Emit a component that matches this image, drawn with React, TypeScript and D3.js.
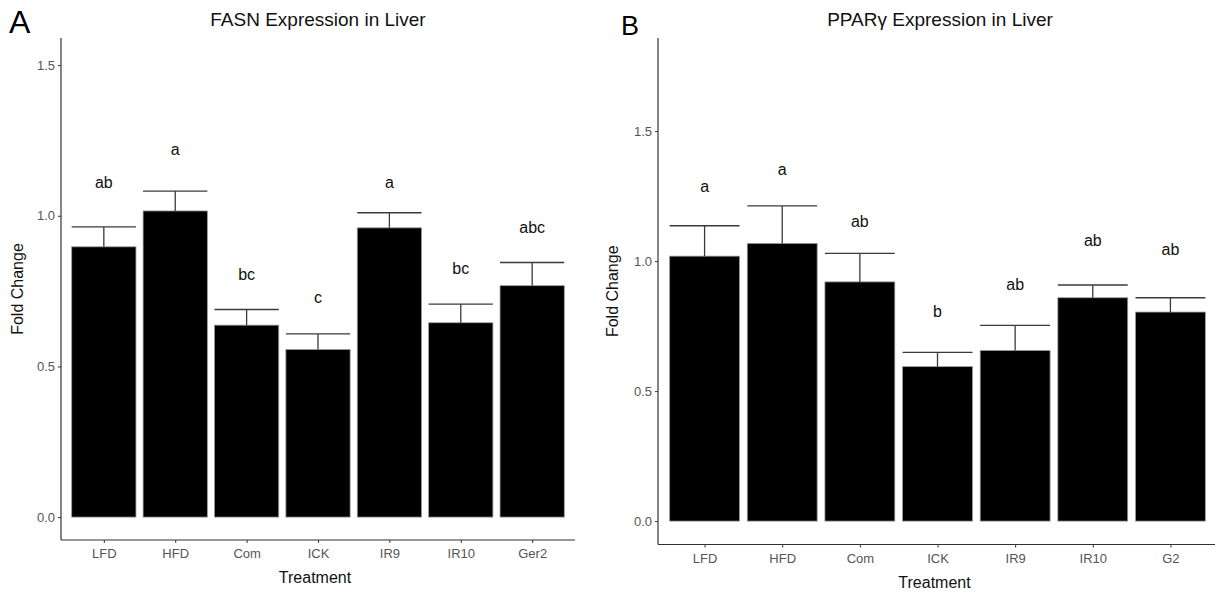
import React, { useEffect, useRef } from "react";
import * as d3 from "d3";

// Panel A: FASN
const fasnGroups = ["LFD", "HFD", "Com", "ICK", "IR9", "IR10", "Ger2"];
const fasnMean = [0.897, 1.016, 0.637, 0.556, 0.96, 0.645, 0.768];
const fasnUpper = [0.963, 1.082, 0.689, 0.608, 1.01, 0.707, 0.845];
const fasnLetters = ["ab", "a", "bc", "c", "a", "bc", "abc"];
const fasnLetterY = [1.112, 1.221, 0.807, 0.73, 1.112, 0.826, 0.962];

// Panel B: PPARγ
const pparGroups = ["LFD", "HFD", "Com", "ICK", "IR9", "IR10", "G2"];
const pparMean = [1.019, 1.068, 0.92, 0.594, 0.656, 0.859, 0.804];
const pparUpper = [1.136, 1.212, 1.03, 0.649, 0.753, 0.908, 0.859];
const pparLetters = ["a", "a", "ab", "b", "ab", "ab", "ab"];
const pparLetterY = [1.286, 1.352, 1.151, 0.805, 0.91, 1.081, 1.045];

const yTicks = [0, 0.5, 1.0, 1.5];

const FONT = "'Liberation Sans', Arial, sans-serif";

type PanelProps = {
  tag: string;
  tagX: number;
  tagY: number;
  tagSize: number;
  title: string;
  groups: string[];
  mean: number[];
  upper: number[];
  letters: string[];
  letterY: number[];
  xRange: [number, number];
  yDomain: [number, number];
  yRange: [number, number];
  titleX: number;
  yLabelX: number;
};

const Panel = (p: PanelProps) => {
  const ref = useRef<SVGGElement>(null);

  useEffect(() => {
    const g = d3.select(ref.current);
    g.selectAll("*").remove();

    // ggplot style discrete axis: positions 1..n, 0.6 expansion
    const x = d3.scaleLinear().domain([0.4, p.groups.length + 0.6]).range(p.xRange);
    const y = d3.scaleLinear().domain(p.yDomain).range(p.yRange);
    const halfW = x(1.45) - x(1);

    const axisLeft = p.xRange[0];
    const axisBottom = p.yRange[0];

    // bars
    g.selectAll("rect.bar")
      .data(p.mean)
      .enter()
      .append("rect")
      .attr("x", (_, i) => x(i + 1) - halfW)
      .attr("y", d => y(d))
      .attr("width", halfW * 2)
      .attr("height", d => y(0) - y(d))
      .attr("fill", "#000")
      .attr("stroke", "#9a9a9a")
      .attr("stroke-width", 0.8);

    // error bars (upper only)
    const eb = g.append("g").attr("stroke", "#3a3a3a").attr("stroke-width", 1.3);
    p.upper.forEach((u, i) => {
      eb.append("line")
        .attr("x1", x(i + 1)).attr("x2", x(i + 1))
        .attr("y1", y(p.mean[i])).attr("y2", y(u));
      eb.append("line")
        .attr("x1", x(i + 1) - halfW).attr("x2", x(i + 1) + halfW)
        .attr("y1", y(u)).attr("y2", y(u));
    });

    // significance letters
    g.selectAll("text.letter")
      .data(p.letters)
      .enter()
      .append("text")
      .attr("x", (_, i) => x(i + 1))
      .attr("y", (_, i) => y(p.letterY[i]))
      .attr("dy", "0.35em")
      .attr("text-anchor", "middle")
      .attr("font-size", 16)
      .attr("fill", "#111")
      .text(d => d);

    // y axis
    const yAxis = g.append("g").attr("transform", `translate(${axisLeft},0)`)
      .call(d3.axisLeft(y).tickValues(yTicks).tickFormat(d3.format(".1f")).tickSize(3).tickPadding(3));
    yAxis.select(".domain").remove();
    yAxis.append("line")
      .attr("y1", p.yRange[1]).attr("y2", axisBottom)
      .attr("stroke", "#333").attr("stroke-width", 1.2);
    yAxis.selectAll(".tick line").attr("stroke", "#333");
    yAxis.selectAll(".tick text")
      .attr("fill", "#555").attr("font-size", 13).attr("font-family", FONT);

    // x axis
    const xAxis = g.append("g").attr("transform", `translate(0,${axisBottom})`)
      .call(d3.axisBottom(x).tickValues(d3.range(1, p.groups.length + 1))
        .tickFormat((d: any) => p.groups[d - 1]).tickSize(3).tickPadding(6));
    xAxis.select(".domain").remove();
    xAxis.append("line")
      .attr("x1", axisLeft).attr("x2", p.xRange[1])
      .attr("stroke", "#333").attr("stroke-width", 1.2);
    xAxis.selectAll(".tick line").attr("stroke", "#333");
    xAxis.selectAll(".tick text")
      .attr("fill", "#555").attr("font-size", 13).attr("font-family", FONT);

    // axis titles
    g.append("text")
      .attr("x", (p.xRange[0] + p.xRange[1]) / 2 - 3)
      .attr("y", axisBottom + 43)
      .attr("text-anchor", "middle")
      .attr("font-size", 16)
      .attr("fill", "#111")
      .text("Treatment");

    g.append("text")
      .attr("transform", `translate(${p.yLabelX},${(p.yRange[0] + p.yRange[1]) / 2}) rotate(-90)`)
      .attr("text-anchor", "middle")
      .attr("font-size", 16)
      .attr("fill", "#111")
      .text("Fold Change");

    // title + panel tag
    g.append("text")
      .attr("x", p.titleX)
      .attr("y", 26)
      .attr("text-anchor", "middle")
      .attr("font-size", 19)
      .attr("fill", "#111")
      .text(p.title);

    g.append("text")
      .attr("x", p.tagX)
      .attr("y", p.tagY)
      .attr("font-size", p.tagSize)
      .attr("fill", "#000")
      .text(p.tag);
  }, [p]);

  return <g ref={ref} fontFamily={FONT}></g>;
};

export default function App() {
  return (
    <svg
      width={1215}
      height={596}
      style={{ position: "absolute", left: 0, top: 0, background: "#fff" }}
    >
      <Panel
        tag="A" tagX={9} tagY={33} tagSize={32}
        title="FASN Expression in Liver" titleX={318}
        groups={fasnGroups} mean={fasnMean} upper={fasnUpper}
        letters={fasnLetters} letterY={fasnLetterY}
        xRange={[61, 575]} yDomain={[-0.076, 1.59]} yRange={[540, 38]}
        yLabelX={23}
      />
      <Panel
        tag="B" tagX={621} tagY={35} tagSize={27}
        title="PPARγ Expression in Liver" titleX={940}
        groups={pparGroups} mean={pparMean} upper={pparUpper}
        letters={pparLetters} letterY={pparLetterY}
        xRange={[658, 1217]} yDomain={[-0.09, 1.858]} yRange={[544.5, 38]}
        yLabelX={618}
      />
    </svg>
  );
}
